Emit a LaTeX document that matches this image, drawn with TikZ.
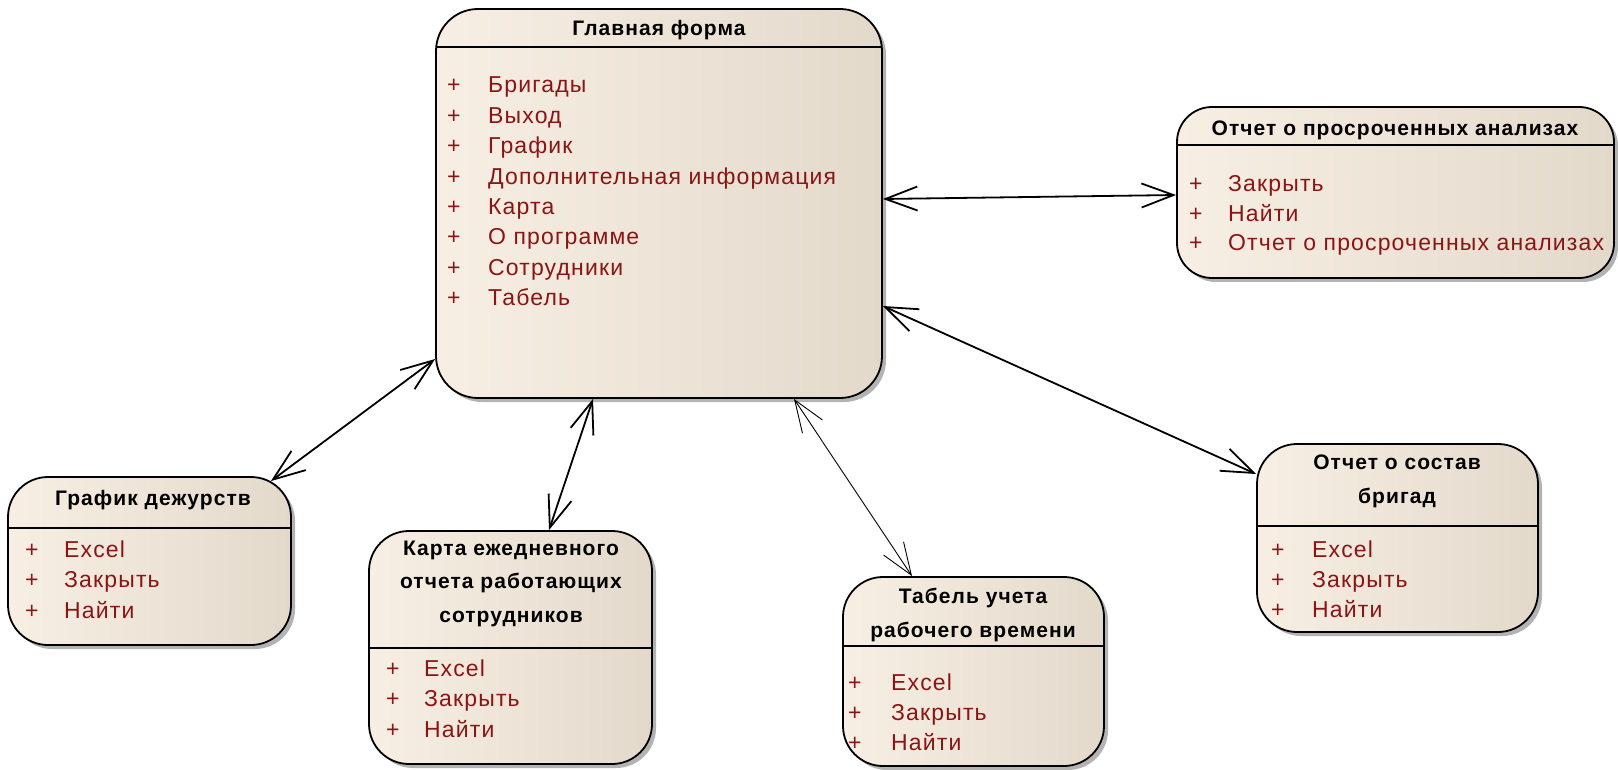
\documentclass[tikz,border=0pt]{standalone}
\usepackage{fontspec}
\setmainfont{Liberation Sans}
\newfontfamily\itemfont[LetterSpace=5]{Liberation Sans}
\newfontfamily\titlefont[LetterSpace=5]{Liberation Sans}
\usetikzlibrary{arrows.meta,shadows}
\definecolor{boxL}{HTML}{F8EFE4}
\definecolor{boxR}{HTML}{E3D9CB}
\definecolor{itemred}{HTML}{8B1515}
\definecolor{shadowgray}{HTML}{A0A0A0}
\begin{document}
\begin{tikzpicture}[x=1pt,y=-1pt,
  box/.style={draw, line width=1.8pt, rounded corners=#1, left color=boxL, right color=boxR,
    inner sep=0pt, drop shadow={shadow xshift=4pt, shadow yshift=-4pt, fill=shadowgray, opacity=0.8}},
  hdr/.style={path picture={\draw[line width=1.8pt] ([yshift=-#1pt]path picture bounding box.north west) -- ([yshift=-#1pt]path picture bounding box.north east);}},
  ttl/.style={font=\titlefont\bfseries\fontsize{21}{33.5}\selectfont, inner sep=0pt, align=center},
  itm/.style={font=\itemfont\fontsize{23}{26}\selectfont, text=itemred, inner sep=0pt, anchor=base west},
  barb/.tip={Straight Barb[length=32pt,width=24pt]},
  conn/.style={line width=1.8pt, barb-barb},
  thinconn/.style={line width=0.9pt, barb-barb}]
\path[fill=white] (0,0) rectangle (1618,770);
\useasboundingbox (0,0) rectangle (1618,770);

% boxes
\node[box=42, hdr=38, minimum width=446pt, minimum height=389pt] (main) at (659,203.5) {};
\node[box=35, hdr=38, minimum width=437pt, minimum height=171pt] (prosr) at (1395.5,192.5) {};
\node[box=40, hdr=51, minimum width=283pt, minimum height=168pt] (grafik) at (149.5,561) {};
\node[box=40, hdr=117, minimum width=283pt, minimum height=233pt] (karta) at (510.5,647.5) {};
\node[box=40, hdr=69, minimum width=261pt, minimum height=189pt] (tabel) at (973.5,671.5) {};
\node[box=40, hdr=82, minimum width=281pt, minimum height=188pt] (sostav) at (1397.5,538) {};

% titles
\node[ttl] (mainT) at (659,30) {Главная форма};
\node[ttl] (prosrT) at (1395,130) {Отчет о просроченных анализах};
\node[ttl] (grafikT) at (153,500) {График дежурств};
\node[ttl] (kartaT) at (511,583.5) {Карта ежедневного\\отчета работающих\\сотрудников};
\node[ttl] (tabelT) at (973,615) {Табель учета\\рабочего времени};
\node[ttl] (sostavT) at (1397,481.5) {Отчет о состав\\бригад};

% items
\foreach \t [count=\i] in {Бригады,Выход,График,Дополнительная информация,Карта,О программе,Сотрудники,Табель}
  \node[itm] (mi\i) at (447,{93+(\i-1)*30.4}) {\makebox[41pt][l]{+}\t};
\foreach \t [count=\i] in {Закрыть,Найти,Отчет о просроченных анализах}
  \node[itm] (pi\i) at (1189,{192+(\i-1)*29.5}) {\makebox[39pt][l]{+}\t};
\foreach \t [count=\i] in {Excel,Закрыть,Найти}
  \node[itm] (gi\i) at (25,{557+(\i-1)*30.5}) {\makebox[39pt][l]{+}\t};
\foreach \t [count=\i] in {Excel,Закрыть,Найти}
  \node[itm] (ki\i) at (386,{676+(\i-1)*30.5}) {\makebox[38pt][l]{+}\t};
\foreach \t [count=\i] in {Excel,Закрыть,Найти}
  \node[itm] (ti\i) at (848,{690+(\i-1)*30}) {\makebox[43pt][l]{+}\t};
\foreach \t [count=\i] in {Excel,Закрыть,Найти}
  \node[itm] (si\i) at (1271,{557+(\i-1)*30}) {\makebox[41pt][l]{+}\t};

% connectors
\draw[conn] ([yshift=4.5pt]main.east) -- ([yshift=-2.5pt]prosr.west);
\draw[conn] ([yshift=-102.5pt]main.east) -- ([yshift=64pt]sostav.west);
\draw[conn] ([yshift=-155.5pt]main.west) -- ([xshift=-21pt,yshift=-5pt]grafik.north east);
\draw[conn] ([xshift=-66pt]main.south) -- ([xshift=38.5pt]karta.north);
\draw[thinconn] ([xshift=135pt]main.south) -- ([xshift=-61.5pt]tabel.north);
\end{tikzpicture}
\end{document}
